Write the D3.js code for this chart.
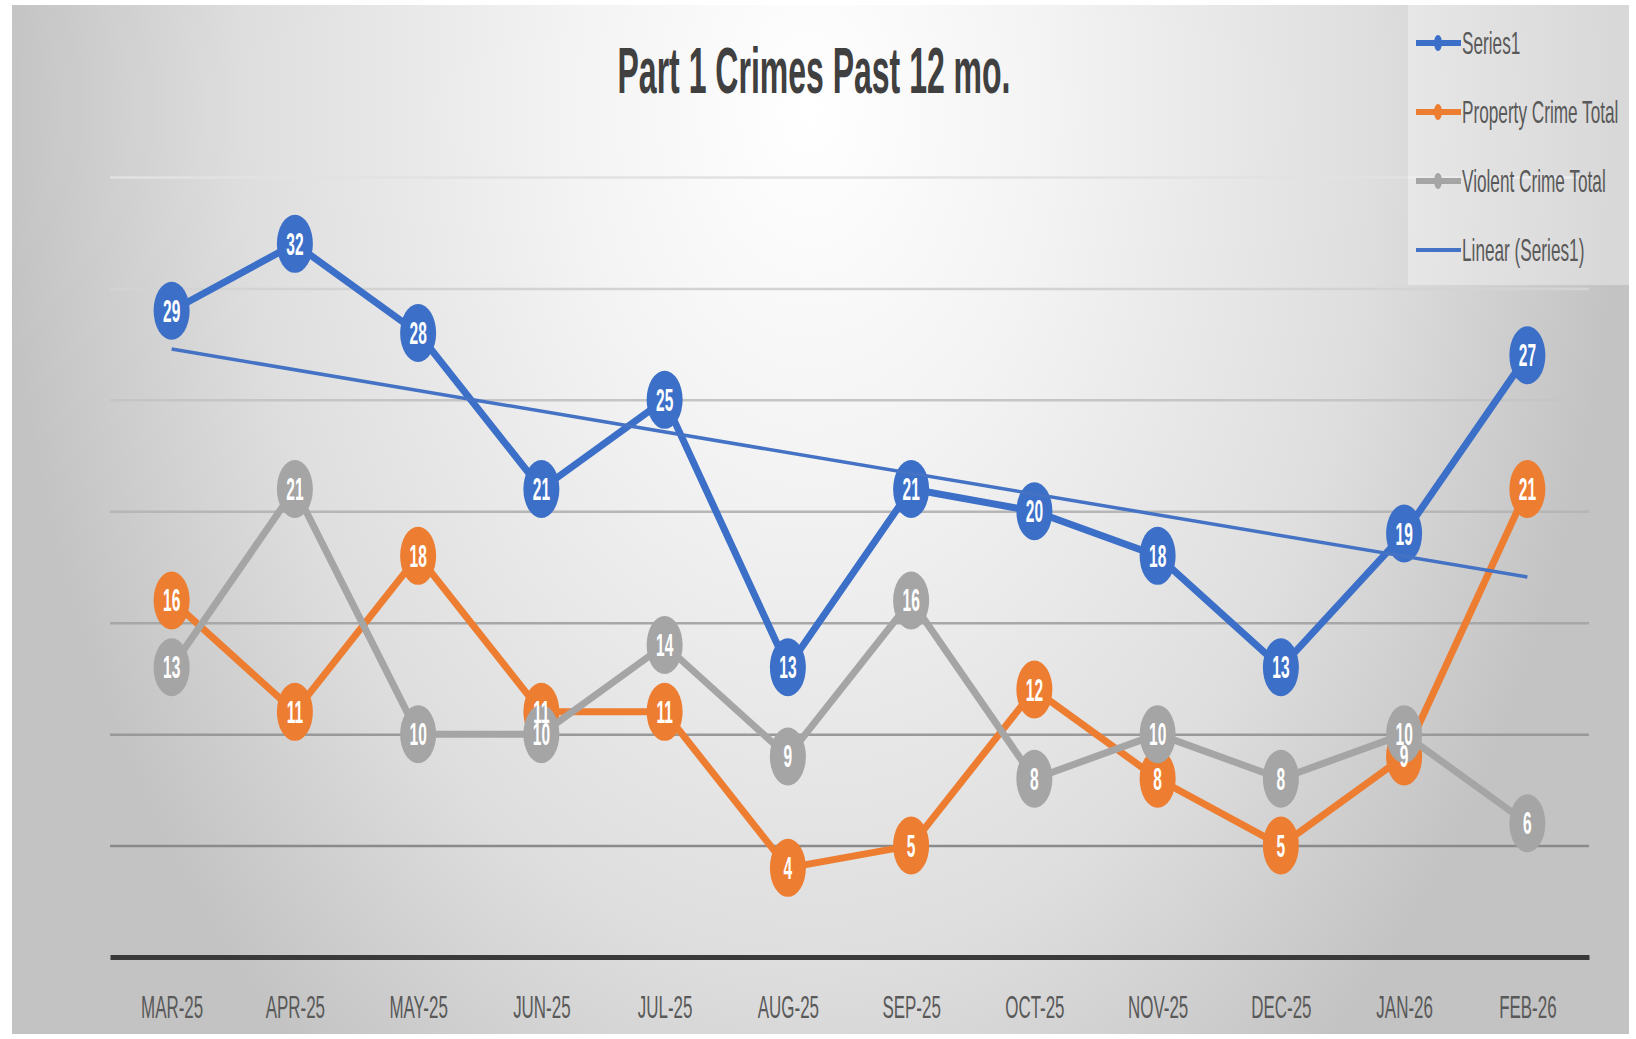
<!DOCTYPE html>
<html>
<head>
<meta charset="utf-8">
<script src="https://cdn.jsdelivr.net/npm/d3@7"></script>
<style>
  body { margin: 0; background: #fff; }
  svg { display: block; }
  text { font-family: "Liberation Sans", Arial, sans-serif; }
</style>
</head>
<body>
<script>
var months = ["MAR-25", "APR-25", "MAY-25", "JUN-25", "JUL-25", "AUG-25",
              "SEP-25", "OCT-25", "NOV-25", "DEC-25", "JAN-26", "FEB-26"];
var series1  = [29, 32, 28, 21, 25, 13, 21, 20, 18, 13, 19, 27];
var property = [16, 11, 18, 11, 11, 4, 5, 12, 8, 5, 9, 21];
var violent  = [13, 21, 10, 10, 14, 9, 16, 8, 10, 8, 10, 6];
var yTicks   = [0, 5, 10, 15, 20, 25, 30, 35];
var legendNames = ["Series1", "Property Crime Total", "Violent Crime Total", "Linear (Series1)"];

var w = 1636,
    h = 1039,
    plotLeft = 110, plotRight = 1589,
    plotTop = 177, plotBottom = 957;

var colors = { s1: "#3b6fc8", prop: "#ed7d31", viol: "#a5a5a5", trend: "#4472c4" };

var svg = d3.select("body").append("svg")
  .attr("width", w)
  .attr("height", h);

var defs = svg.append("defs");
var grad = defs.append("radialGradient")
  .attr("id", "bg")
  .attr("gradientUnits", "userSpaceOnUse")
  .attr("cx", 810).attr("cy", 110).attr("r", 810)
  .attr("gradientTransform", "translate(810,110) scale(1,1.5) translate(-810,-110)");
grad.append("stop").attr("offset", 0).attr("stop-color", "#ffffff");
grad.append("stop").attr("offset", 0.3).attr("stop-color", "#f3f3f3");
grad.append("stop").attr("offset", 0.7).attr("stop-color", "#dedede");
grad.append("stop").attr("offset", 1).attr("stop-color", "#c3c3c3");

svg.append("rect")
  .attr("x", 12).attr("y", 5)
  .attr("width", 1617).attr("height", 1029)
  .attr("fill", "url(#bg)");

var xScale = d3.scalePoint()
  .domain(months)
  .range([plotLeft, plotRight])
  .padding(0.5);

var yScale = d3.scaleLinear()
  .domain([0, 35])
  .range([plotBottom, plotTop]);

var gridColor = d3.scaleLinear()
  .domain([5, 35])
  .range(["#8a8a8a", "#e2e2e2"]);

// gridlines
var grid = svg.append("g")
  .attr("transform", "translate(" + plotLeft + ",0)")
  .call(d3.axisLeft(yScale).tickValues(yTicks.filter(function(d) { return d > 0; }))
    .tickSize(-(plotRight - plotLeft)).tickFormat(""));
grid.select(".domain").remove();
grid.selectAll(".tick line")
  .attr("stroke", function(d) { return gridColor(d); })
  .attr("stroke-width", 2.5);

// x axis
var xAxis = svg.append("g")
  .attr("transform", "translate(0," + plotBottom + ")")
  .call(d3.axisBottom(xScale).tickSize(0).tickPadding(61));
xAxis.select(".domain")
  .attr("stroke", "#3a3a3a")
  .attr("stroke-width", 5);
xAxis.selectAll(".tick text")
  .attr("dy", 0)
  .attr("fill", "#595959")
  .attr("font-size", 32)
  .attr("transform", "scale(0.53,1)");

// title
svg.append("text")
  .attr("transform", "translate(814,93) scale(0.5,1)")
  .attr("text-anchor", "middle")
  .attr("font-size", 64)
  .attr("font-weight", "bold")
  .attr("fill", "#404040")
  .text("Part 1 Crimes Past 12 mo.");

var line = d3.line()
  .x(function(d, i) { return xScale(months[i]); })
  .y(function(d) { return yScale(d); });

var allSeries = [
  { values: series1, color: colors.s1 },
  { values: property, color: colors.prop },
  { values: violent, color: colors.viol }
];

allSeries.forEach(function(s) {
  svg.append("path")
    .datum(s.values)
    .attr("fill", "none")
    .attr("stroke", s.color)
    .attr("stroke-width", 7)
    .attr("stroke-linejoin", "round")
    .attr("d", line);
  svg.append("g").selectAll("ellipse")
    .data(s.values)
    .enter()
    .append("ellipse")
    .attr("cx", function(d, i) { return xScale(months[i]); })
    .attr("cy", function(d) { return yScale(d); })
    .attr("rx", 18)
    .attr("ry", 29)
    .attr("fill", s.color);
});

// linear trend of Series1 (least squares)
var n = series1.length;
var mx = (n + 1) / 2;
var my = d3.mean(series1);
var sxy = d3.sum(series1, function(d, i) { return (i + 1 - mx) * (d - my); });
var sxx = d3.sum(series1, function(d, i) { return (i + 1 - mx) * (i + 1 - mx); });
var slope = sxy / sxx;
var trend = [my + slope * (1 - mx), my + slope * (n - mx)];
svg.append("line")
  .attr("x1", xScale(months[0])).attr("y1", yScale(trend[0]))
  .attr("x2", xScale(months[n - 1])).attr("y2", yScale(trend[1]))
  .attr("stroke", colors.trend)
  .attr("stroke-width", 3.5);

// data labels
allSeries.forEach(function(s) {
  svg.append("g").selectAll("text")
    .data(s.values)
    .enter()
    .append("text")
    .attr("transform", function(d, i) {
      return "translate(" + xScale(months[i]) + "," + (yScale(d) + 11) + ") scale(0.5,1)";
    })
    .attr("text-anchor", "middle")
    .attr("font-size", 31)
    .attr("font-weight", "bold")
    .attr("fill", "#ffffff")
    .text(function(d) { return d; });
});

// legend
var legend = svg.append("g");
legend.append("rect")
  .attr("x", 1408).attr("y", 5)
  .attr("width", 221).attr("height", 280)
  .attr("fill", "#ffffff").attr("fill-opacity", 0.35);

var legendColors = [colors.s1, colors.prop, colors.viol, colors.trend];
var legendY = [43, 112, 181, 250];
legendNames.forEach(function(name, i) {
  var y = legendY[i];
  legend.append("line")
    .attr("x1", 1416).attr("x2", 1461)
    .attr("y1", y).attr("y2", y)
    .attr("stroke", legendColors[i])
    .attr("stroke-width", i < 3 ? 6 : 4);
  if (i < 3) {
    legend.append("ellipse")
      .attr("cx", 1438).attr("cy", y)
      .attr("rx", 4).attr("ry", 8)
      .attr("fill", legendColors[i]);
  }
  legend.append("text")
    .attr("transform", "translate(1462," + (y + 11) + ") scale(0.555,1)")
    .attr("font-size", 31)
    .attr("fill", "#595959")
    .text(name);
});
</script>
</body>
</html>
